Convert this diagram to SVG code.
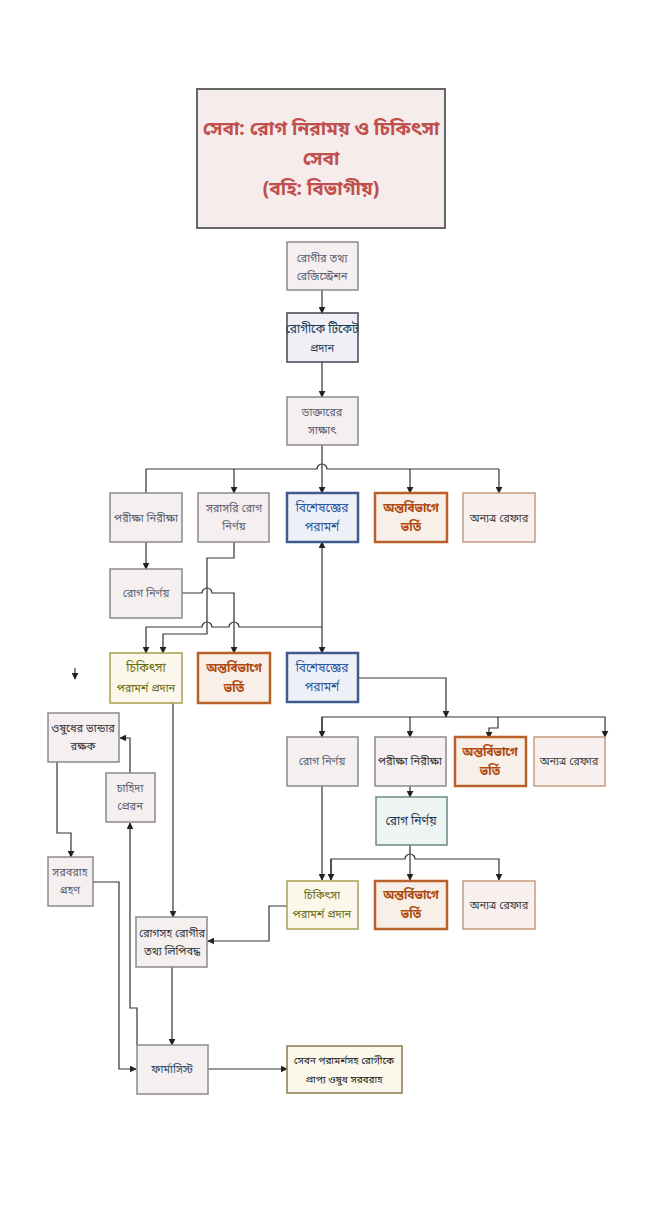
<svg xmlns="http://www.w3.org/2000/svg" width="665" height="1232" viewBox="0 0 665 1232">
<defs>
<marker id="ah" viewBox="0 0 10 10" refX="9" refY="5" markerWidth="7" markerHeight="7" orient="auto-start-reverse" markerUnits="userSpaceOnUse"><path d="M0,0 L10,5 L0,10 z" fill="#222"/></marker>
<style>
text{font-family:"Noto Sans Bengali","Noto Sans","Liberation Sans",sans-serif;text-anchor:middle;font-size:11px;fill:#5a6070}
.n{fill:#f5eff0;stroke:#8a8a8a;stroke-width:1.5}
.blue{fill:#eef0f8;stroke:#3d5b8c;stroke-width:2.5}
.blue-t{fill:#2b5aa0;font-size:12px}
.org{fill:#f8efe8;stroke:#b8622a;stroke-width:2.5}
.org-t{fill:#b04a10;font-size:12px;font-weight:bold}
.ref{fill:#f8f0ee;stroke:#c89a80;stroke-width:1.5}
.olv{fill:#fbf7ea;stroke:#a8a050;stroke-width:1.5}
.olv-t{fill:#6a6a10}
.c{fill:none;stroke:#333;stroke-width:1.2}
.ttl{fill:#c0504d;font-size:19px;font-weight:bold}
</style>
</defs>
<rect width="665" height="1232" fill="#fff"/>

<g id="connectors">
<path class="c" d="M322,290 V313" marker-end="url(#ah)"/>
<path class="c" d="M322,362 V397" marker-end="url(#ah)"/>
<path class="c" d="M322,445 V493" marker-end="url(#ah)"/>
<path class="c" d="M146,493 V469 H317 A5,5 0 0 1 327,469 H499"/>
<path class="c" d="M234,469 V493" marker-end="url(#ah)"/>
<path class="c" d="M410,469 V493" marker-end="url(#ah)"/>
<path class="c" d="M499,469 V493" marker-end="url(#ah)"/>
<path class="c" d="M146,542 V569" marker-end="url(#ah)"/>
<path class="c" d="M322,542 V653" marker-start="url(#ah)" marker-end="url(#ah)"/>
<path class="c" d="M322,627 H239 A5,5 0 0 0 229,627 H212 A5,5 0 0 0 202,627 H146 V653" marker-end="url(#ah)"/>
<path class="c" d="M234,542 V558 H207 V634 H163 V653" marker-end="url(#ah)"/>
<path class="c" d="M182,593 H202 A5,5 0 0 1 212,593 H234 V653" marker-end="url(#ah)"/>
<path class="c" d="M75,668 V679" marker-end="url(#ah)"/>
<path class="c" d="M358,678 H446 V717" marker-end="url(#ah)"/>
<path class="c" d="M322,737 V717 H605 V737" marker-end="url(#ah)"/>
<path class="c" d="M322,717 V737" marker-end="url(#ah)"/>
<path class="c" d="M410,717 V737" marker-end="url(#ah)"/>
<path class="c" d="M498,717 V728 H489 V738" marker-end="url(#ah)"/>
<path class="c" d="M410,786 V797" marker-end="url(#ah)"/>
<path class="c" d="M322,786 V880" marker-end="url(#ah)"/>
<path class="c" d="M331,880 V859 H405 A5,5 0 0 1 415,859 H499 V880" marker-end="url(#ah)"/>
<path class="c" d="M331,859 V880" marker-end="url(#ah)"/>
<path class="c" d="M410,845 V880" marker-end="url(#ah)"/>
<path class="c" d="M287,906 H269 V941 H208" marker-end="url(#ah)"/>
<path class="c" d="M173,703 V917" marker-end="url(#ah)"/>
<path class="c" d="M130,773 V738 H120" marker-end="url(#ah)"/>
<path class="c" d="M57,762 V833 H71 V857" marker-end="url(#ah)"/>
<path class="c" d="M93,882 H119 V1069 H136" marker-end="url(#ah)"/>
<path class="c" d="M137,1045 V1008 H130 V823" marker-end="url(#ah)"/>
<path class="c" d="M172,967 V1045" marker-end="url(#ah)"/>
<path class="c" d="M208,1069 H287" marker-end="url(#ah)"/>
</g>

<g id="title">
<rect x="197" y="89" width="248" height="139" fill="#f6ecec" stroke="#666" stroke-width="2"/>
<text class="ttl" x="321" y="135">সেবা: রোগ নিরাময় ও চিকিৎসা</text>
<text class="ttl" x="321" y="165">সেবা</text>
<text class="ttl" x="321" y="195">(বহি: বিভাগীয়)</text>
</g>

<g id="n-registration">
<rect class="n" x="287" y="242" width="71" height="48"/>
<text x="322" y="262">রোগীর তথ্য</text>
<text x="322" y="280">রেজিস্ট্রেশন</text>
</g>
<g id="n-ticket">
<rect class="n" x="287" y="313" width="71" height="49" style="fill:#eef0f5;stroke:#445"/>
<text x="322" y="333" style="fill:#1a3a5a;font-size:12px">রোগীকে টিকেট</text>
<text x="322" y="352" style="fill:#1a3a5a">প্রদান</text>
</g>
<g id="n-doctor">
<rect class="n" x="287" y="397" width="71" height="48"/>
<text x="322" y="416">ডাক্তারের</text>
<text x="322" y="434">সাক্ষাৎ</text>
</g>

<g id="n-test1">
<rect class="n" x="110" y="493" width="72" height="49"/>
<text x="146" y="522">পরীক্ষা নিরীক্ষা</text>
</g>
<g id="n-direct">
<rect class="n" x="198" y="493" width="71" height="49"/>
<text x="234" y="512">সরাসরি রোগ</text>
<text x="234" y="530">নির্ণয়</text>
</g>
<g id="n-spec1">
<rect class="blue" x="287" y="493" width="71" height="49"/>
<text class="blue-t" x="322" y="512">বিশেষজ্ঞের</text>
<text class="blue-t" x="322" y="531">পরামর্শ</text>
</g>
<g id="n-admit1">
<rect class="org" x="375" y="493" width="72" height="49"/>
<text class="org-t" x="411" y="512">অন্তর্বিভাগে</text>
<text class="org-t" x="411" y="531">ভর্তি</text>
</g>
<g id="n-refer1">
<rect class="ref" x="463" y="493" width="72" height="49"/>
<text x="499" y="522" style="fill:#444">অন্যত্র রেফার</text>
</g>

<g id="n-diag1">
<rect class="n" x="110" y="569" width="72" height="49"/>
<text x="146" y="597">রোগ নির্ণয়</text>
</g>

<g id="n-treat1">
<rect class="olv" x="110" y="653" width="72" height="50"/>
<text class="olv-t" x="146" y="672" style="font-size:12px">চিকিৎসা</text>
<text class="olv-t" x="146" y="692">পরামর্শ প্রদান</text>
</g>
<g id="n-admit2">
<rect class="org" x="198" y="653" width="72" height="50"/>
<text class="org-t" x="234" y="672">অন্তর্বিভাগে</text>
<text class="org-t" x="234" y="692">ভর্তি</text>
</g>
<g id="n-spec2">
<rect class="blue" x="287" y="653" width="71" height="49"/>
<text class="blue-t" x="322" y="672">বিশেষজ্ঞের</text>
<text class="blue-t" x="322" y="691">পরামর্শ</text>
</g>

<g id="n-diag2">
<rect class="n" x="287" y="737" width="71" height="49"/>
<text x="322" y="765">রোগ নির্ণয়</text>
</g>
<g id="n-test2">
<rect class="n" x="375" y="737" width="71" height="49"/>
<text x="410" y="765" style="fill:#333">পরীক্ষা নিরীক্ষা</text>
</g>
<g id="n-admit3">
<rect class="org" x="455" y="737" width="71" height="49"/>
<text class="org-t" x="490" y="756">অন্তর্বিভাগে</text>
<text class="org-t" x="490" y="775">ভর্তি</text>
</g>
<g id="n-refer2">
<rect class="ref" x="534" y="737" width="71" height="49"/>
<text x="569" y="765" style="fill:#444">অন্যত্র রেফার</text>
</g>

<g id="n-diag3">
<rect class="n" x="376" y="797" width="71" height="48" style="fill:#eef4f2;stroke:#6a8a88"/>
<text x="411" y="825" style="fill:#1a3a5a;font-size:12px">রোগ নির্ণয়</text>
</g>

<g id="n-treat2">
<rect class="olv" x="287" y="881" width="71" height="48"/>
<text class="olv-t" x="322" y="899">চিকিৎসা</text>
<text class="olv-t" x="322" y="918">পরামর্শ প্রদান</text>
</g>
<g id="n-admit4">
<rect class="org" x="375" y="881" width="72" height="48"/>
<text class="org-t" x="411" y="899">অন্তর্বিভাগে</text>
<text class="org-t" x="411" y="918">ভর্তি</text>
</g>
<g id="n-refer3">
<rect class="ref" x="463" y="881" width="72" height="48"/>
<text x="499" y="909" style="fill:#444">অন্যত্র রেফার</text>
</g>

<g id="n-store">
<rect class="n" x="48" y="713" width="71" height="49"/>
<text x="83" y="732" style="fill:#334">ওষুধের ভান্ডার</text>
<text x="83" y="750" style="fill:#334">রক্ষক</text>
</g>
<g id="n-demand">
<rect class="n" x="106" y="773" width="49" height="49"/>
<text x="130" y="792">চাহিদা</text>
<text x="130" y="810">প্রেরন</text>
</g>
<g id="n-supply">
<rect class="n" x="48" y="857" width="45" height="49"/>
<text x="70" y="876">সরবরাহ</text>
<text x="70" y="894">গ্রহণ</text>
</g>
<g id="n-record">
<rect class="n" x="136" y="917" width="71" height="50"/>
<text x="172" y="937" style="fill:#333">রোগসহ রোগীর</text>
<text x="172" y="955" style="fill:#333">তথ্য লিপিবদ্ধ</text>
</g>
<g id="n-pharmacist">
<rect class="n" x="137" y="1045" width="71" height="49"/>
<text x="172" y="1073" style="fill:#2a4a6a">ফার্মাসিস্ট</text>
</g>
<g id="n-dispense">
<rect class="olv" x="287" y="1046" width="115" height="47" style="stroke:#8a7a50"/>
<text x="344" y="1064" style="fill:#222;font-size:10px">সেবন পরামর্শসহ রোগীকে</text>
<text x="344" y="1083" style="fill:#222;font-size:10px">প্রাপ্য ওষুধ সরবরাহ</text>
</g>
</svg>
